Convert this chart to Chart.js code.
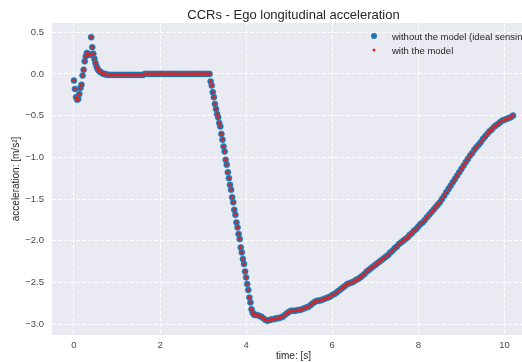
<!DOCTYPE html>
<html>
<head>
<meta charset="utf-8">
<title>CCRs - Ego longitudinal acceleration</title>
<script src="https://cdn.jsdelivr.net/npm/chart.js@4.4.1/dist/chart.umd.min.js"></script>
<style>
  html, body { margin: 0; padding: 0; background: #fff; overflow: hidden; }
  #wrap { width: 522px; height: 362px; overflow: hidden; }
  canvas { display: block; }
</style>
</head>
<body>
<div id="wrap"><canvas id="accelChart" width="540" height="362"></canvas></div>
<script>
// Ego longitudinal acceleration over the CCRs run [s, m/s²]
const timeS = [
  0, 0.025, 0.05, 0.075, 0.1, 0.125, 0.15, 0.175, 0.2, 0.225, 0.25, 0.275, 0.3, 0.325, 0.35, 0.375,
  0.4, 0.425, 0.45, 0.475, 0.5, 0.525, 0.55, 0.575, 0.6, 0.625, 0.65, 0.675, 0.7, 0.725, 0.75, 0.775, 0.8,
  0.85, 0.9, 0.95, 1.0, 1.05, 1.1, 1.15, 1.2, 1.25, 1.3, 1.35, 1.4, 1.45, 1.5, 1.55, 1.6,
  1.65, 1.7, 1.75, 1.8, 1.85, 1.9, 1.95, 2.0, 2.05, 2.1, 2.15, 2.2, 2.25, 2.3, 2.35, 2.4,
  2.45, 2.5, 2.55, 2.6, 2.65, 2.7, 2.75, 2.8, 2.85, 2.9, 2.95, 3.0, 3.05, 3.1, 3.15,
  3.175, 3.2, 3.225, 3.25, 3.275, 3.3, 3.325, 3.35, 3.375, 3.4, 3.425, 3.45, 3.475, 3.5,
  3.525, 3.55, 3.575, 3.6, 3.625, 3.65, 3.675, 3.7, 3.725, 3.75, 3.775, 3.8, 3.825, 3.85,
  3.875, 3.9, 3.925, 3.95, 3.975, 4.0, 4.025, 4.05, 4.075, 4.1, 4.125, 4.15, 4.175, 4.2,
  4.25, 4.3, 4.35, 4.4, 4.45, 4.5, 4.55, 4.6, 4.65, 4.7,
  4.75, 4.8, 4.85, 4.9, 4.95, 5.0, 5.05, 5.1, 5.15, 5.2,
  5.25, 5.3, 5.35, 5.4, 5.45, 5.5, 5.55, 5.6, 5.65, 5.7,
  5.75, 5.8, 5.85, 5.9, 5.95, 6.0, 6.05, 6.1, 6.15, 6.2,
  6.25, 6.3, 6.35, 6.4, 6.45, 6.5, 6.55, 6.6, 6.65, 6.7,
  6.75, 6.8, 6.85, 6.9, 6.95, 7.0, 7.05, 7.1, 7.15, 7.2,
  7.25, 7.3, 7.35, 7.4, 7.45, 7.5, 7.55, 7.6, 7.65, 7.7,
  7.75, 7.8, 7.85, 7.9, 7.95, 8.0, 8.05, 8.1, 8.15, 8.2,
  8.25, 8.3, 8.35, 8.4, 8.45, 8.5, 8.55, 8.6, 8.65, 8.7,
  8.75, 8.8, 8.85, 8.9, 8.95, 9.0, 9.05, 9.1, 9.15, 9.2,
  9.25, 9.3, 9.35, 9.4, 9.45, 9.5, 9.55, 9.6, 9.65, 9.7,
  9.75, 9.8, 9.85, 9.9, 9.95, 10.0, 10.05, 10.1, 10.15, 10.2
];

// ideal sensing: the controller sees the true target state
const accelIdeal = [
  -0.08, -0.18, -0.28, -0.31, -0.30, -0.24, -0.17, -0.13, -0.02, 0.05, 0.15, 0.21, 0.25, 0.24, 0.23, 0.23,
  0.44, 0.32, 0.24, 0.18, 0.13, 0.09, 0.06, 0.04, 0.03, 0.02, 0.01, 0.005, 0.0, -0.005, -0.008, -0.01, -0.012,
  -0.012, -0.012, -0.012, -0.012, -0.012, -0.012, -0.012, -0.012, -0.012, -0.012, -0.012, -0.012, -0.012, -0.012, -0.012, -0.012,
  0, 0, 0, 0, 0, 0, 0, 0, 0, 0, 0, 0, 0, 0, 0, 0,
  0, 0, 0, 0, 0, 0, 0, 0, 0, 0, 0, 0, 0, 0, 0,
  -0.09, -0.14, -0.22, -0.28, -0.36, -0.42, -0.48, -0.52, -0.59, -0.63, -0.72, -0.79, -0.87, -0.93,
  -1.03, -1.09, -1.18, -1.25, -1.33, -1.39, -1.48, -1.54, -1.63, -1.69, -1.78, -1.84, -1.92, -1.98,
  -2.08, -2.14, -2.22, -2.28, -2.37, -2.44, -2.52, -2.59, -2.68, -2.74, -2.82, -2.86, -2.88, -2.89,
  -2.89, -2.90, -2.91, -2.93, -2.95, -2.96, -2.95, -2.94, -2.94, -2.93,
  -2.93, -2.92, -2.91, -2.89, -2.87, -2.85, -2.84, -2.84, -2.84, -2.83,
  -2.83, -2.82, -2.81, -2.80, -2.79, -2.77, -2.75, -2.73, -2.72, -2.72,
  -2.71, -2.70, -2.69, -2.68, -2.67, -2.65, -2.64, -2.62, -2.60, -2.58,
  -2.56, -2.54, -2.52, -2.51, -2.50, -2.49, -2.47, -2.46, -2.44, -2.42,
  -2.40, -2.37, -2.35, -2.33, -2.31, -2.29, -2.27, -2.25, -2.23, -2.21,
  -2.19, -2.17, -2.14, -2.12, -2.09, -2.07, -2.04, -2.02, -2.00, -1.98,
  -1.96, -1.93, -1.91, -1.88, -1.86, -1.83, -1.80, -1.78, -1.75, -1.72,
  -1.69, -1.66, -1.63, -1.60, -1.57, -1.54, -1.50, -1.46, -1.42, -1.38,
  -1.34, -1.30, -1.26, -1.22, -1.18, -1.14, -1.10, -1.06, -1.02, -0.98,
  -0.95, -0.91, -0.88, -0.85, -0.82, -0.78, -0.75, -0.72, -0.69, -0.67,
  -0.64, -0.62, -0.60, -0.58, -0.56, -0.55, -0.54, -0.53, -0.52, -0.50
];

// with the sensor model the trace lands on the same samples
const accelModel = accelIdeal.slice();

const seriesNames = ['without the model (ideal sensing)', 'with the model'];
const chartTitle = 'CCRs - Ego longitudinal acceleration';
const xLabel = 'time: [s]';
const yLabel = 'acceleration: [m/s²]';

const FONT = '"Liberation Sans", Arial, sans-serif';
const TEXT = '#262626';
const TICK = '#4a4a4a';
const BLUE = '#1f77b4';
const RED = '#d62728';

const toPoints = values => timeS.map((t, i) => ({ x: t, y: values[i] }));

// axes background, title and legend
const decor = {
    id: 'decor',
    beforeDraw(chart) {
        const { ctx, chartArea: a } = chart;
        ctx.save();
        ctx.fillStyle = '#eaeaf2';
        ctx.fillRect(a.left, a.top, a.right - a.left, a.bottom - a.top);
        ctx.restore();
    },
    afterDraw(chart) {
        const { ctx, chartArea: a } = chart;
        ctx.save();
        ctx.fillStyle = TEXT;
        ctx.textBaseline = 'alphabetic';
        ctx.textAlign = 'center';
        ctx.font = '13px ' + FONT;
        ctx.fillText(chartTitle, (a.left + a.right) / 2, 18.5);

        // legend rows
        const rows = [
            { label: seriesNames[0], color: BLUE, r: 3 },
            { label: seriesNames[1], color: RED, r: 1.5 }
        ];
        ctx.font = '9.5px ' + FONT;
        ctx.textAlign = 'left';
        rows.forEach((row, i) => {
            const y = 36 + i * 14;
            ctx.beginPath();
            ctx.fillStyle = row.color;
            ctx.arc(374, y, row.r, 0, Math.PI * 2);
            ctx.fill();
            ctx.fillStyle = TEXT;
            ctx.fillText(row.label, 392, y + 4);
        });
        ctx.restore();
    }
};

const minusFmt = v => (v < 0 ? '\u2212' : '') + Math.abs(v).toFixed(1);

new Chart(document.getElementById('accelChart'), {
    type: 'scatter',
    data: {
        datasets: [
            {
                label: seriesNames[1],
                data: toPoints(accelModel),
                backgroundColor: RED,
                borderWidth: 0,
                pointRadius: 1.7,
                order: 0
            },
            {
                label: seriesNames[0],
                data: toPoints(accelIdeal),
                backgroundColor: BLUE,
                borderColor: 'rgba(31,119,180,0.55)',
                borderWidth: 1,
                pointRadius: 3,
                order: 1
            }
        ]
    },
    options: {
        responsive: false,
        devicePixelRatio: 1,
        animation: false,
        events: [],
        layout: { padding: { top: 23, right: 3, left: 0, bottom: 0 } },
        plugins: {
            legend: { display: false },
            title: { display: false },
            tooltip: { enabled: false }
        },
        scales: {
            x: {
                type: 'linear',
                min: -0.51,
                max: 10.71,
                afterFit: scale => { scale.height = 27; },
                grid: { color: '#ffffff', lineWidth: 1, drawTicks: false },
                border: { display: false, dash: [4, 2] },
                ticks: {
                    stepSize: 2,
                    includeBounds: false,
                    padding: 5,
                    color: TICK,
                    font: { family: FONT, size: 9.5 },
                    callback: v => v.toFixed(0)
                },
                title: {
                    display: true,
                    text: xLabel,
                    color: TEXT,
                    font: { family: FONT, size: 10 },
                    padding: { top: 0, bottom: 0 }
                }
            },
            y: {
                type: 'linear',
                min: -3.13,
                max: 0.61,
                afterFit: scale => { scale.width = 52; },
                grid: { color: '#ffffff', lineWidth: 1, drawTicks: false },
                border: { display: false, dash: [4, 2] },
                ticks: {
                    stepSize: 0.5,
                    includeBounds: false,
                    padding: 8,
                    color: TICK,
                    font: { family: FONT, size: 9.5 },
                    callback: minusFmt
                },
                title: {
                    display: true,
                    text: yLabel,
                    color: TEXT,
                    font: { family: FONT, size: 10 },
                    padding: { top: 10, bottom: 0 }
                }
            }
        }
    },
    plugins: [decor]
});
</script>
</body>
</html>
